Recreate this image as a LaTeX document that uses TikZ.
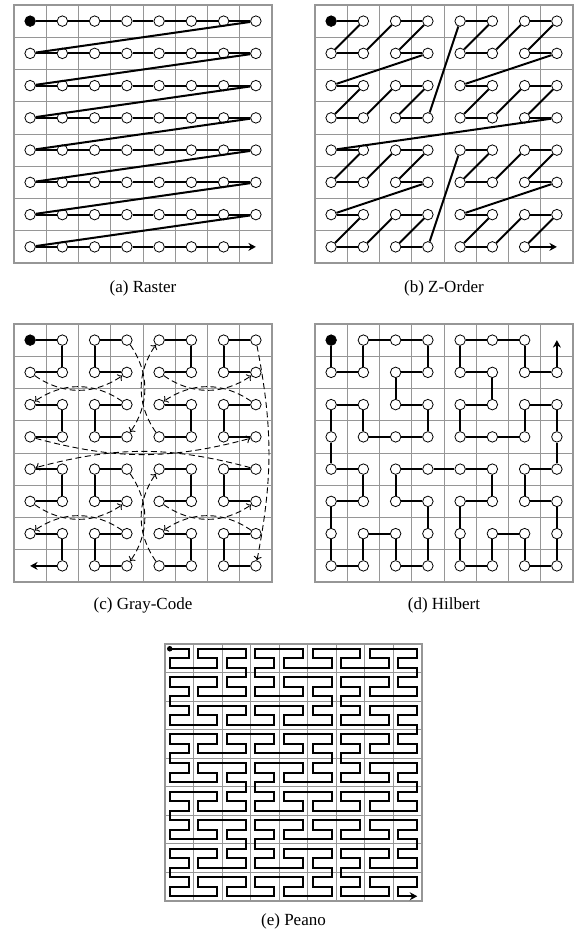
\documentclass[tikz,border=0pt]{standalone}
\usepackage{fontspec}
\setmainfont{Liberation Serif}
\usetikzlibrary{arrows.meta}
\definecolor{gridgray}{RGB}{150,150,150}
\newcommand\mkpt[4]{%
  \ifnum#2=63 \coordinate (#1#2) at (#3+0.5,#4+0.5);%
  \else\ifnum#2=0 \node[startpt] (#1#2) at (#3+0.5,#4+0.5) {};%
  \else \node[pt] (#1#2) at (#3+0.5,#4+0.5) {};\fi\fi}
\newcommand\panelgrid{%
  \foreach \gi in {1,...,7}{\draw[gridline] (\gi,0) -- (\gi,8); \draw[gridline] (0,\gi) -- (8,\gi);}%
  \draw[frame] (0,0) rectangle (8,8);}
\begin{document}
\begin{tikzpicture}[x=1pt,y=-1pt,
  gridline/.style={draw=gridgray, line width=0.9pt},
  frame/.style={draw=gridgray, line width=1.3pt},
  pt/.style={circle, draw=black, fill=white, line width=0.8pt, minimum size=10.5pt, inner sep=0pt},
  startpt/.style={pt, fill=black},
  curve/.style={line width=2pt, draw=black},
  endarrow/.style={-{Stealth[length=7.5pt,width=8pt,inset=2.5pt]}},
  jump/.style={line width=0.9pt, draw=black, dash pattern=on 6pt off 3.5pt, -{To[length=4pt,width=8pt]}},
  peano/.style={line width=2pt, draw=black},
  dot/.style={circle, fill=black, inner sep=0pt, minimum size=5.5pt},
  caption/.style={font=\fontsize{17}{20}\selectfont, anchor=base}
]
\fill[white] (0,0) rectangle (575,933);
\useasboundingbox (0,0) rectangle (575,933);

% (a) Raster
\begin{scope}[shift={(14,5)}, x=32.25pt, y=-32.25pt]
  \panelgrid
  \foreach \rr in {0,...,7}{\foreach \cq in {0,...,7}{
    \pgfmathtruncatemacro\idx{8*\rr+\cq}
    \mkpt{a}{\idx}{\cq}{\rr}}}
  \foreach \i [evaluate=\i as \j using int(\i+1)] in {0,...,61}{\draw[curve] (a\i) -- (a\j);}
  \draw[curve,endarrow] (a62) -- (a63);
\end{scope}

% (b) Z-Order
\begin{scope}[shift={(315,5)}, x=32.25pt, y=-32.25pt]
  \panelgrid
  \foreach \idx in {0,...,63}{
    \pgfmathtruncatemacro\xx{mod(\idx,2)+2*mod(floor(\idx/4),2)+4*mod(floor(\idx/16),2)}
    \pgfmathtruncatemacro\yy{mod(floor(\idx/2),2)+2*mod(floor(\idx/8),2)+4*mod(floor(\idx/32),2)}
    \mkpt{b}{\idx}{\xx}{\yy}}
  \foreach \i [evaluate=\i as \j using int(\i+1)] in {0,...,61}{\draw[curve] (b\i) -- (b\j);}
  \draw[curve,endarrow] (b62) -- (b63);
\end{scope}

% (c) Gray-Code
\begin{scope}[shift={(14,324)}, x=32.25pt, y=-32.25pt]
  \panelgrid
  \foreach \xx/\yy [count=\idx from 0] in {0/0,1/0,1/1,0/1,3/1,2/1,2/0,3/0,
    3/3,2/3,2/2,3/2,0/2,1/2,1/3,0/3,
    7/3,6/3,6/2,7/2,4/2,5/2,5/3,4/3,
    4/0,5/0,5/1,4/1,7/1,6/1,6/0,7/0,
    7/7,6/7,6/6,7/6,4/6,5/6,5/7,4/7,
    4/4,5/4,5/5,4/5,7/5,6/5,6/4,7/4,
    0/4,1/4,1/5,0/5,3/5,2/5,2/4,3/4,
    3/7,2/7,2/6,3/6,0/6,1/6,1/7,0/7}{\mkpt{c}{\idx}{\xx}{\yy}}
  \foreach \blk in {0,...,15}{\foreach \k in {0,1,2}{
    \pgfmathtruncatemacro\i{4*\blk+\k}
    \pgfmathtruncatemacro\j{\i+1}
    \ifnum\i<62 \draw[curve] (c\i) -- (c\j);\fi}}
  \draw[curve,endarrow] (c62) -- (c63);
  \draw[jump] (c3) to[bend right=35] (c4);
  \draw[jump] (c7) to[bend left=35] (c8);
  \draw[jump] (c11) to[bend right=35] (c12);
  \draw[jump] (c15) to[bend right=15] (c16);
  \draw[jump] (c19) to[bend right=35] (c20);
  \draw[jump] (c23) to[bend left=35] (c24);
  \draw[jump] (c27) to[bend right=35] (c28);
  \draw[jump] (c31) to[bend left=11] (c32);
  \draw[jump] (c35) to[bend right=35] (c36);
  \draw[jump] (c39) to[bend left=35] (c40);
  \draw[jump] (c43) to[bend right=35] (c44);
  \draw[jump] (c47) to[bend right=15] (c48);
  \draw[jump] (c51) to[bend right=35] (c52);
  \draw[jump] (c55) to[bend left=35] (c56);
  \draw[jump] (c59) to[bend right=35] (c60);
\end{scope}

% (d) Hilbert
\begin{scope}[shift={(315,324)}, x=32.25pt, y=-32.25pt]
  \panelgrid
  \foreach \xx/\yy [count=\idx from 0] in {0/0,0/1,1/1,1/0,2/0,3/0,3/1,2/1,
    2/2,3/2,3/3,2/3,1/3,1/2,0/2,0/3,
    0/4,1/4,1/5,0/5,0/6,0/7,1/7,1/6,
    2/6,2/7,3/7,3/6,3/5,2/5,2/4,3/4,
    4/4,5/4,5/5,4/5,4/6,4/7,5/7,5/6,
    6/6,6/7,7/7,7/6,7/5,6/5,6/4,7/4,
    7/3,7/2,6/2,6/3,5/3,4/3,4/2,5/2,
    5/1,4/1,4/0,5/0,6/0,6/1,7/1,7/0}{\mkpt{d}{\idx}{\xx}{\yy}}
  \foreach \i [evaluate=\i as \j using int(\i+1)] in {0,...,61}{\draw[curve] (d\i) -- (d\j);}
  \draw[curve,endarrow] (d62) -- (d63);
\end{scope}

% (e) Peano
\begin{scope}[shift={(165,644)}, x=9.5185pt, y=-9.5185pt]
  \foreach \gi in {3,6,...,24}{\draw[gridline] (\gi,0) -- (\gi,27); \draw[gridline] (0,\gi) -- (27,\gi);}
  \draw[frame] (0,0) rectangle (27,27);
  \foreach \ra in {0,1,2}{\foreach \ca in {0,1,2}{\foreach \rb in {0,1,2}{%
  \foreach \cb in {0,1,2}{\foreach \rc in {0,1,2}{\foreach \cq in {0,1,2}{%
    \pgfmathtruncatemacro\idx{243*\ra+81*\ca+27*\rb+9*\cb+3*\rc+\cq}%
    \pgfmathtruncatemacro\pr{9*\ra+3*(\rb+mod(\ca,2)*(2-2*\rb))+\rc+mod(\ca+\cb,2)*(2-2*\rc)}%
    \pgfmathtruncatemacro\pc{9*(\ca+mod(\ra,2)*(2-2*\ca))+3*(\cb+mod(\ra+\rb,2)*(2-2*\cb))+\cq+mod(\ra+\rb+\rc,2)*(2-2*\cq)}%
    \coordinate (p\idx) at (\pc+0.5,\pr+0.5);%
  }}}}}}
  \draw[peano,endarrow] (p0) \foreach \i in {1,...,728}{ -- (p\i)};
  \node[dot] (pstart) at (p0) {};
\end{scope}

\node[caption] (capa) at (143,292) {(a) Raster};
\node[caption] (capb) at (444,292) {(b) Z-Order};
\node[caption] (capc) at (143,609) {(c) Gray-Code};
\node[caption] (capd) at (444,609) {(d) Hilbert};
\node[caption] (cape) at (293.5,925) {(e) Peano};
\end{tikzpicture}
\end{document}
